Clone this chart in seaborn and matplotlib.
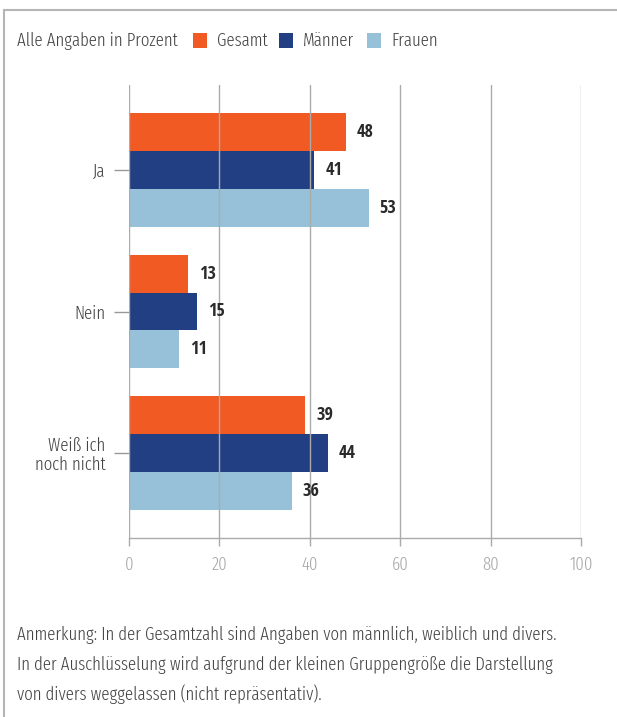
import matplotlib
matplotlib.use("Agg")
import matplotlib.pyplot as plt
from matplotlib.lines import Line2D
from matplotlib.patches import Rectangle
from matplotlib.textpath import TextPath
from matplotlib.font_manager import FontProperties
import matplotlib.font_manager as fm
import seaborn as sns
import pandas as pd

categories = ["Ja", "Nein", "Weiß ich\nnoch nicht"]
series_names = ["Gesamt", "Männer", "Frauen"]
gesamt = [48, 13, 39]
maenner = [41, 15, 44]
frauen = [53, 11, 36]
x_ticks = [0, 20, 40, 60, 80, 100]
colors = ["#F15A22", "#233F84", "#96C1D8"]
legend_title = "Alle Angaben in Prozent"
note_lines = [
    "Anmerkung: In der Gesamtzahl sind Angaben von männlich, weiblich und divers.",
    "In der Auschlüsselung wird aufgrund der kleinen Gruppengröße die Darstellung",
    "von divers weggelassen (nicht repräsentativ).",
]

sns.set_theme(style="white")

W, H = 617, 717
fig = plt.figure(figsize=(6.17, 7.17), dpi=100)
renderer = fig.canvas.get_renderer()


def wnum(w):
    try:
        return int(w)
    except Exception:
        return {"light": 300, "normal": 400, "regular": 400, "bold": 700}.get(str(w), 400)


ents = [(f.name, wnum(f.weight)) for f in fm.fontManager.ttflist if f.style == "normal"]
reg_fam, reg_w = None, 400
for pref in ["Open Sans Condensed", "Open Sans Condensed Light", "Fira Sans Extra Condensed",
             "Roboto Condensed"]:
    light = sorted([w for n, w in ents if n == pref and w < 600])
    if light:
        reg_fam, reg_w = pref, (300 if 300 in light else light[-1])
        break
if reg_fam is None:
    reg_fam = "DejaVu Sans"
bold_fam = "Open Sans Condensed" if any(n == "Open Sans Condensed" and w >= 600 for n, w in ents) else reg_fam

REG = [reg_fam, "DejaVu Sans"]
BOLD = [bold_fam, "DejaVu Sans"]
plt.rcParams["font.family"] = REG
plt.rcParams["font.weight"] = reg_w


def cap_px(fams, weight, size=10):
    p = TextPath((0, 0), "H", size=size, prop=FontProperties(family=fams, weight=weight))
    return p.get_extents().height * 100 / 72


t = fig.text(0, 0, note_lines[0], fontsize=10, family=REG, weight=reg_w)
w10 = t.get_window_extent(renderer).width
t.remove()
fs = min(10 * 12.8 / cap_px(REG, reg_w), 10 * 540.0 / w10)
fsb = min(10 * 13.0 / cap_px(BOLD, "bold"), fs * 1.15)

rows = []
for name, vals in zip(series_names, [gesamt, maenner, frauen]):
    for c, v in zip(categories, vals):
        rows.append({"Kategorie": c, "Gruppe": name, "Wert": v})
df = pd.DataFrame(rows)

ax = fig.add_axes([129 / W, 1 - 538 / H, (581 - 129) / W, (538 - 85) / H])

sns.barplot(data=df, y="Kategorie", x="Wert", hue="Gruppe", order=categories,
            hue_order=series_names, palette=colors, orient="h", width=0.8,
            saturation=1, ax=ax, legend=False, linewidth=0)

ax.set_xlim(0, 100)
ax.set_ylim(2.6, -0.6)
ax.set_xticks(x_ticks)
ax.set_xticklabels([str(t) for t in x_ticks])
ax.set_xlabel("")
ax.set_ylabel("")
ax.set_axisbelow(False)
ax.xaxis.grid(True, color="#ababab", linewidth=1.0)
ax.yaxis.grid(False)
for s in ["top", "right", "left"]:
    ax.spines[s].set_visible(False)
ax.spines["bottom"].set_color("#ababab")
ax.spines["bottom"].set_linewidth(1.0)
ax.tick_params(axis="x", colors="#ababab", length=6, width=1.0, labelsize=fs,
               pad=7, bottom=True)
ax.tick_params(axis="x", labelcolor="#a8a8a8")
ax.tick_params(axis="y", colors="#999999", length=11, width=1.0, labelsize=fs,
               pad=6, left=True)
ax.tick_params(axis="y", labelcolor="#444444")
for lab in ax.get_yticklabels() + ax.get_xticklabels():
    lab.set_family(REG)
    lab.set_fontweight(reg_w)
for lab in ax.get_yticklabels():
    lab.set_horizontalalignment("right")
    lab.set_multialignment("right")
    lab.set_linespacing(1.05)

for cont in ax.containers:
    labs = ax.bar_label(cont, fmt="%d", padding=8, fontsize=fsb, color="#2a2a2a")
    for l in labs:
        l.set_family(BOLD)
        l.set_fontweight("bold")

# legend row
ly = 1 - 41 / H
fig.text(17 / W, ly, legend_title, fontsize=fs, color="#444444", va="center", ha="left",
         family=REG, weight=reg_w)
sq_x = [193, 279, 367]
for x0, c, name in zip(sq_x, colors, series_names):
    fig.add_artist(Rectangle((x0 / W, 1 - 48 / H), 14 / W, 15 / H,
                             transform=fig.transFigure, facecolor=c, edgecolor="none"))
    fig.text((x0 + 24) / W, ly, name, fontsize=fs, color="#444444", va="center", ha="left",
             family=REG, weight=reg_w)

# footnote
for i, line in enumerate(note_lines):
    fig.text(17 / W, 1 - (635 + 29.5 * i) / H, line, fontsize=fs, color="#444444",
             va="center", ha="left", family=REG, weight=reg_w)

# frame border
fig.add_artist(Line2D([4 / W, 4 / W], [0, 1 - 10 / H], transform=fig.transFigure,
                      color="#b5b5b5", linewidth=1.5))
fig.add_artist(Line2D([4 / W, 1], [1 - 10 / H, 1 - 10 / H], transform=fig.transFigure,
                      color="#b5b5b5", linewidth=1.5))

fig.savefig("out.png", dpi=100)
